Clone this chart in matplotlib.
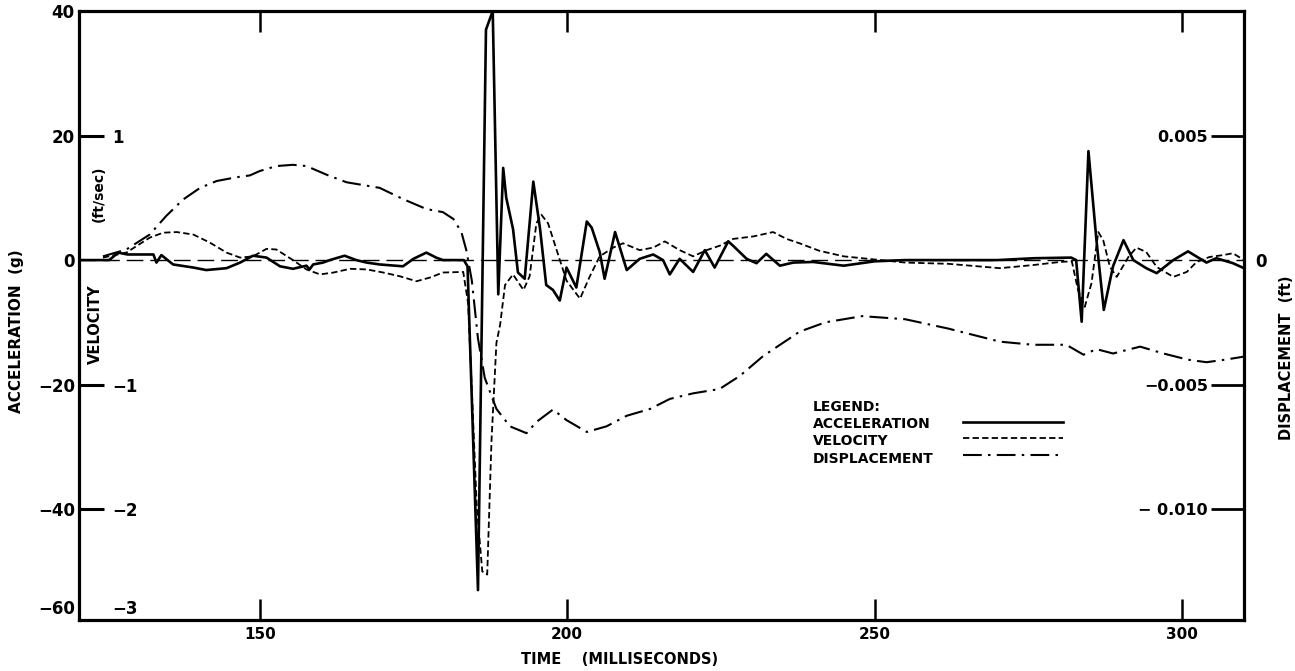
import matplotlib.pyplot as plt

plt.rcParams['font.family'] = ['DejaVu Sans']
plt.rcParams['font.weight'] = 'bold'
plt.rcParams['axes.labelweight'] = 'bold'
plt.rcParams['axes.unicode_minus'] = True

# acceleration (g)
acc_t = [120.6, 125.5, 127.0, 128.5, 132.7, 133.2, 134.0, 135.9, 139.2, 141.3, 144.6, 146.8,
         148.9, 151.1, 153.3, 155.4, 157.6, 158.1, 158.7, 160.3, 161.4, 163.8, 165.7, 167.4,
         169.5, 173.3, 175.0, 177.1, 178.7, 179.8, 183.2, 183.8, 185.5, 186.8, 187.9, 188.8,
         189.6, 190.1, 191.2, 192.0, 193.1, 194.5, 195.6, 196.6, 197.7, 198.8, 199.9, 201.5,
         203.2, 204.0, 205.3, 206.1, 207.8, 209.7, 211.8, 214.0, 215.6, 216.7, 218.3, 220.5,
         222.4, 224.0, 226.2, 227.0, 229.2, 230.8, 232.4, 234.6, 236.8, 240.0, 245.0, 250.0,
         255.0, 270.0, 276.0, 282.0, 282.8, 283.7, 284.8, 286.1, 287.3, 288.8, 290.5, 292.1,
         294.2, 295.9, 298.6, 301.0, 304.0, 305.6, 308.3, 310.1]
acc_g = [0.0, 0.0, 1.2, 0.9, 0.9, -0.4, 0.8, -0.7, -1.2, -1.6, -1.3, -0.4,
         0.7, 0.4, -1.0, -1.4, -0.9, -1.5, -0.7, -0.4, 0.0, 0.7, 0.0, -0.4,
         -0.7, -1.0, 0.2, 1.2, 0.4, 0.0, 0.0, -1.0, -53.0, 37.0, 40.0, -5.5,
         14.8, 10.0, 5.0, -2.0, -3.0, 12.6, 5.0, -4.0, -4.8, -6.5, -1.2, -4.4,
         6.2, 5.2, 1.3, -3.0, 4.5, -1.6, 0.2, 0.9, 0.0, -2.3, 0.2, -1.9,
         1.6, -1.2, 3.0, 2.3, 0.2, -0.5, 1.0, -0.9, -0.4, -0.3, -0.9, -0.2,
         0.0, 0.0, 0.3, 0.4, 0.0, -9.9, 17.5, 3.2, -8.0, -1.0, 3.2, 0.0,
         -1.3, -2.1, 0.0, 1.4, -0.4, 0.3, -0.5, -1.3]

# velocity (ft/sec)
vel_t = [124.5, 128.3, 132.1, 134.3, 136.5, 139.2, 141.9, 144.6, 146.8, 148.9, 151.1, 152.7,
         155.4, 157.6, 159.8, 162.0, 164.7, 167.4, 170.1, 172.8, 175.5, 177.7, 179.8, 183.1,
         183.9, 185.3, 186.2, 187.0, 187.7, 188.5, 189.1, 189.9, 191.2, 192.9, 193.9, 195.0,
         195.8, 196.9, 198.3, 199.9, 202.1, 203.7, 205.3, 207.5, 209.1, 211.8, 214.0, 215.9,
         218.3, 220.5, 222.7, 224.8, 227.0, 230.3, 233.5, 235.7, 237.8, 241.0, 245.0, 250.0,
         255.0, 262.0, 270.4, 275.8, 280.2, 282.1, 283.1, 284.2, 285.3, 286.4, 287.2, 288.3,
         289.4, 291.3, 292.6, 294.2, 295.9, 298.6, 300.8, 302.4, 304.5, 306.7, 308.3, 310.1]
vel_fps = [0.02, 0.06, 0.18, 0.22, 0.225, 0.205, 0.14, 0.06, 0.02, 0.03, 0.09, 0.085,
           0.0, -0.075, -0.115, -0.1, -0.07, -0.075, -0.1, -0.13, -0.17, -0.14, -0.1, -0.095,
           -0.35, -1.975, -2.5, -2.525, -1.45, -0.665, -0.52, -0.2, -0.115, -0.24, -0.13, 0.295,
           0.365, 0.295, 0.08, -0.165, -0.31, -0.13, 0.03, 0.1, 0.135, 0.08, 0.1, 0.15,
           0.08, 0.03, 0.08, 0.115, 0.17, 0.19, 0.225, 0.17, 0.135, 0.075, 0.03, 0.005,
           -0.02, -0.03, -0.065, -0.04, -0.015, -0.01, -0.24, -0.375, -0.185, 0.225, 0.16, -0.055,
           -0.135, 0.025, 0.1, 0.065, -0.055, -0.135, -0.095, -0.015, 0.025, 0.04, 0.055, 0.0]

# displacement (ft)
disp_t = [124.5, 128.3, 132.1, 134.8, 137.5, 140.3, 143.0, 146.2, 148.4, 150.0, 152.7, 155.4,
          157.6, 160.9, 164.1, 169.5, 173.3, 177.1, 179.8, 181.5, 182.8, 183.6, 184.5, 185.5,
          186.6, 188.5, 190.7, 193.4, 195.0, 197.7, 199.9, 203.2, 206.4, 209.7, 213.5, 216.7,
          220.5, 224.8, 228.1, 231.9, 235.7, 237.8, 242.0, 248.0, 255.0, 262.0, 270.4, 275.8,
          281.2, 284.0, 286.1, 288.8, 293.2, 297.0, 301.0, 304.0, 307.0, 310.1]
disp_ft = [0.00015, 0.000425, 0.001025, 0.001775, 0.002425, 0.0029, 0.003175, 0.003325,
           0.0034, 0.003575, 0.003775, 0.003825, 0.003775, 0.003425, 0.003125, 0.0029,
           0.00245, 0.00205, 0.001925, 0.00165, 0.001125, 0.0004, -0.000825, -0.00315,
           -0.004725, -0.005975, -0.006675, -0.00695, -0.0065, -0.006, -0.006425, -0.0069,
           -0.006675, -0.00625, -0.005975, -0.005575, -0.00535, -0.005175, -0.00465, -0.00385,
           -0.003225, -0.002875, -0.0025, -0.00225, -0.002375, -0.00275, -0.003275, -0.0034,
           -0.0034, -0.0038, -0.003575, -0.00375, -0.003475, -0.00375, -0.004, -0.0041,
           -0.004, -0.003875]

acc_lim = (-57.8, 40)
t_lim = (120.6, 310.1)

fig = plt.figure(figsize=(12.95, 6.71), dpi=100)
ax = fig.add_axes([0.061, 0.076, 0.8996, 0.9076])
vax = ax.twinx()
dax = ax.twinx()

ax.axhline(0, color='black', lw=1.0, ls=(0, (12, 5)))
l_acc, = ax.plot(acc_t, acc_g, color='black', lw=1.9)
l_vel, = vax.plot(vel_t, vel_fps, color='black', lw=1.3, ls=(0, (3.5, 1.8)))
l_disp, = dax.plot(disp_t, disp_ft, color='black', lw=1.5, ls=(0, (9, 3, 1.2, 3)))

ax.set_xlim(t_lim)
ax.set_ylim(acc_lim)
vax.set_ylim(acc_lim[0] / 20, acc_lim[1] / 20)
dax.set_ylim(acc_lim[0] * 0.00025, acc_lim[1] * 0.00025)

for s in ax.spines.values():
    s.set_linewidth(2.3)
for a in (vax, dax):
    for s in a.spines.values():
        s.set_visible(False)

# x axis
ax.set_xticks([150, 200, 250, 300])
ax.tick_params(axis='x', direction='in', length=15, width=1.8, top=True,
               labelsize=11, pad=5)
ax.set_xlabel('TIME    (MILLISECONDS)', fontsize=10.5)
ax.xaxis.set_label_coords(0.464, -0.052)

# left axis: acceleration
ax.set_yticks([20, -20, -40])
ax.set_yticklabels(['20', '\u221220', '\u221240'])
ax.set_yticks([40, 0, -55.7], minor=True)
ax.set_yticklabels(['40', '0', '\u221260'], minor=True)
ax.tick_params(axis='y', which='major', direction='in', length=18, width=2.2,
               labelsize=12, pad=3)
ax.tick_params(axis='y', which='minor', length=0, labelsize=12, pad=3)
ax.set_ylabel('ACCELERATION  (g)', fontsize=11)
ax.yaxis.set_label_coords(-0.047, 0.475)

# velocity labels inside left
vax.yaxis.set_ticks_position('left')
vax.set_yticks([1, -1, -2, -2.785])
vax.set_yticklabels(['1', '\u22121', '\u22122', '\u22123'])
vax.tick_params(axis='y', length=0, labelsize=12, pad=-24)
for lbl in vax.get_yticklabels():
    lbl.set_horizontalalignment('left')
ax.text(0.017, 0.70, '(ft/sec)', transform=ax.transAxes, rotation=90,
        fontsize=10, ha='center', va='center')
ax.text(0.014, 0.485, 'VELOCITY', transform=ax.transAxes, rotation=90,
        fontsize=10.5, ha='center', va='center')

# right axis: displacement
dax.set_yticks([0.005, -0.005, -0.010])
dax.set_yticklabels(['0.005', '\u22120.005', '\u2212 0.010'])
dax.set_yticks([0.0], minor=True)
dax.set_yticklabels(['0'], minor=True)
dax.tick_params(axis='y', which='major', direction='in', length=24, width=2.0,
                labelsize=11.5, pad=-26)
for lbl in dax.get_yticklabels():
    lbl.set_horizontalalignment('right')
dax.tick_params(axis='y', which='minor', length=0, labelsize=12, pad=8)
dax.set_ylabel('DISPLACEMENT  (ft)', fontsize=10.5)
dax.yaxis.set_label_coords(1.03, 0.43)

# legend
ax.text(0.630, 0.350, 'LEGEND:', transform=ax.transAxes, fontsize=10, va='center')
ax.text(0.630, 0.322, 'ACCELERATION', transform=ax.transAxes, fontsize=10, va='center')
ax.text(0.630, 0.294, 'VELOCITY', transform=ax.transAxes, fontsize=10, va='center')
ax.text(0.630, 0.265, 'DISPLACEMENT', transform=ax.transAxes, fontsize=10, va='center')
dax.legend([l_acc, l_vel, l_disp], ['', '', ''], loc='upper left',
           bbox_to_anchor=(0.759, 0.336), frameon=False, handlelength=7.2,
           fontsize=10, labelspacing=0.2, borderpad=0, borderaxespad=0,
           handletextpad=0)

fig.savefig('out.png', dpi=100)
